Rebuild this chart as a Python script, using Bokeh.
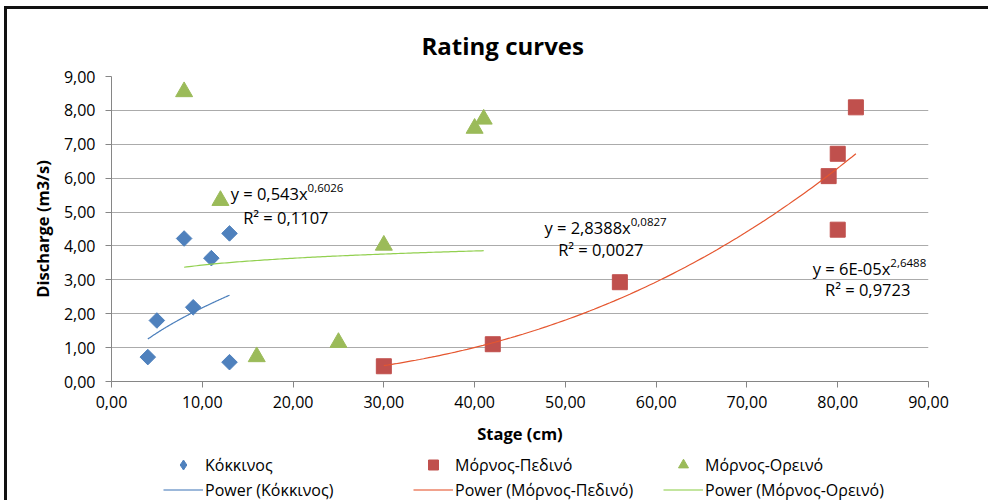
import numpy as np
from bokeh.plotting import figure
from bokeh.layouts import column
from bokeh.models import Range1d, Legend, LegendItem, Label, FixedTicker
from bokeh.embed import file_html
from bokeh.resources import INLINE

# Gauged stage (cm) and discharge (m3/s) for each station
kokkinos_stage = [4, 5, 8, 9, 11, 13, 13]
kokkinos_q = [0.72, 1.80, 4.22, 2.19, 3.64, 4.37, 0.57]

pedino_stage = [30, 42, 56, 79, 80, 80, 82]
pedino_q = [0.45, 1.10, 2.93, 6.06, 6.72, 4.48, 8.09]

oreino_stage = [8, 12, 16, 25, 30, 40, 41]
oreino_q = [8.55, 5.34, 0.73, 1.15, 4.02, 7.47, 7.74]

series_names = ["Κόκκινος", "Μόρνος-Πεδινό", "Μόρνος-Ορεινό"]

# Power trend lines q = a * stage^b (the middle coefficient is shown rounded as 6E-05)
power_a = [0.543, 5.73e-05, 2.8388]
power_b = [0.6026, 2.6488, 0.0827]
eq_main = ["y = 0,543x", "y = 6E-05x", "y = 2,8388x"]
eq_exp = ["0,6026", "2,6488", "0,0827"]
eq_r2 = ["R² = 0,1107", "R² = 0,9723", "R² = 0,0027"]

x_ticks = [0, 10, 20, 30, 40, 50, 60, 70, 80, 90]
x_tick_labels = ["0,00", "10,00", "20,00", "30,00", "40,00", "50,00", "60,00", "70,00", "80,00", "90,00"]
y_ticks = [0, 1, 2, 3, 4, 5, 6, 7, 8, 9]
y_tick_labels = ["0,00", "1,00", "2,00", "3,00", "4,00", "5,00", "6,00", "7,00", "8,00", "9,00"]

FONT = "Open Sans"
marker_colors = ["#4F81BD", "#C0504D", "#9BBB59"]
trend_colors = ["#4A7EBB", "#E5562F", "#92D050"]
marker_kw = [dict(marker="square", angle=np.pi / 4, size=11),
             dict(marker="square", angle=0, size=15),
             dict(marker="triangle", angle=0, size=17)]
legend_marker = ["diamond", "square", "triangle"]

p = figure(width=981, height=443, output_backend="svg", toolbar_location=None,
           x_range=Range1d(0, 90), y_range=Range1d(0, 9),
           min_border_left=104, min_border_right=60, min_border_top=67, min_border_bottom=71)
p.outline_line_color = None
p.background_fill_color = "white"
p.border_fill_color = "white"

p.title.text = "Rating curves"
p.title.text_font = FONT
p.title.text_font_size = "24px"
p.title.text_font_style = "bold"
p.title.align = "left"
p.title.offset = 310
p.title.standoff = 30
p.title.text_color = "#000000"

# axes
p.xaxis.ticker = FixedTicker(ticks=x_ticks)
p.yaxis.ticker = FixedTicker(ticks=y_ticks)
p.xaxis.major_label_overrides = dict(zip(x_ticks, x_tick_labels))
p.yaxis.major_label_overrides = dict(zip(y_ticks, y_tick_labels))
for ax in (p.xaxis, p.yaxis):
    ax.axis_line_color = "#868686"
    ax.major_tick_line_color = "#868686"
    ax.major_tick_out = 6
    ax.major_tick_in = 0
    ax.minor_tick_line_color = None
    ax.major_label_text_font = FONT
    ax.major_label_text_font_size = "16px"
    ax.major_label_text_color = "#000000"
    ax.axis_label_text_font = FONT
    ax.axis_label_text_font_size = "16.5px"
    ax.axis_label_text_font_style = "bold"
    ax.axis_label_text_color = "#000000"
p.xaxis.axis_label = "Stage (cm)"
p.yaxis.axis_label = "Discharge (m3/s)"
p.xaxis.major_label_standoff = 8
p.yaxis.major_label_standoff = 10
p.xaxis.axis_label_standoff = 11
p.yaxis.axis_label_standoff = 7

p.xgrid.grid_line_color = None
p.ygrid.grid_line_color = "#ABABAB"
p.ygrid.grid_line_width = 1.2

stages = [kokkinos_stage, pedino_stage, oreino_stage]
flows = [kokkinos_q, pedino_q, oreino_q]
trend_x = []
trend_y = []

for i in range(3):
    p.scatter(stages[i], flows[i], fill_color=marker_colors[i], line_color=marker_colors[i], **marker_kw[i])
    xs = np.linspace(min(stages[i]), max(stages[i]), 120)
    ys = power_a[i] * xs ** power_b[i]
    trend_x.append(xs)
    trend_y.append(ys)
    p.line(xs, ys, line_color=trend_colors[i], line_width=1.2)

# trend line equations
eq_pos = [(21.6, 5.55, 14.5, 4.84), (85.8, 3.33, 78.6, 2.71), (57.2, 4.54, 49.2, 3.89)]
for i, (xe, ye, xr, yr) in enumerate(eq_pos):
    p.add_layout(Label(x=xe, y=ye, text=eq_main[i], text_align="right", text_baseline="middle",
                       text_font=FONT, text_font_size="16.5px", text_color="#000000"))
    p.add_layout(Label(x=xe, y=ye + 0.16, text=eq_exp[i], text_align="left", text_baseline="middle",
                       text_font=FONT, text_font_size="11.5px", text_color="#000000"))
    p.add_layout(Label(x=xr, y=yr, text=eq_r2[i], text_align="left", text_baseline="middle",
                       text_font=FONT, text_font_size="16.5px", text_color="#000000"))

# legend strip below the chart: one block per station (marker row, trend-line row);
# its renderers are hidden and only feed the legend glyphs
lf = figure(width=981, height=48, output_backend="svg", toolbar_location=None,
            x_range=Range1d(0, 90), y_range=Range1d(0, 9), x_axis_type=None, y_axis_type=None,
            min_border_left=0, min_border_right=0, min_border_top=0, min_border_bottom=0)
lf.outline_line_color = None
lf.border_fill_color = "white"
lf.background_fill_color = "white"

legend_x = [52, 302, 552]
for i in range(3):
    mk = lf.scatter(stages[i], flows[i], marker=legend_marker[i], size=10,
                    fill_color=marker_colors[i], line_color=marker_colors[i], visible=False)
    ln = lf.line(trend_x[i], trend_y[i], line_color=trend_colors[i], line_width=2.2,
                 line_alpha=0.55, visible=False)
    leg = Legend(items=[LegendItem(label=series_names[i], renderers=[mk]),
                        LegendItem(label="Power (" + series_names[i] + ")", renderers=[ln])],
                 location=(legend_x[i], -2), orientation="vertical",
                 glyph_width=40, glyph_height=25, label_height=25, spacing=0,
                 label_standoff=2, padding=0, margin=0,
                 border_line_color=None, background_fill_alpha=0,
                 label_text_font=FONT, label_text_font_size="16px", label_text_color="#000000")
    lf.add_layout(leg)

page = column(p, lf, spacing=0)
page.styles = {"border-left": "3px solid #111111", "border-top": "3px solid #111111",
               "margin-left": "4px", "margin-top": "6px", "vertical-align": "top"}

open("out.html", "w").write(file_html(page, INLINE))
